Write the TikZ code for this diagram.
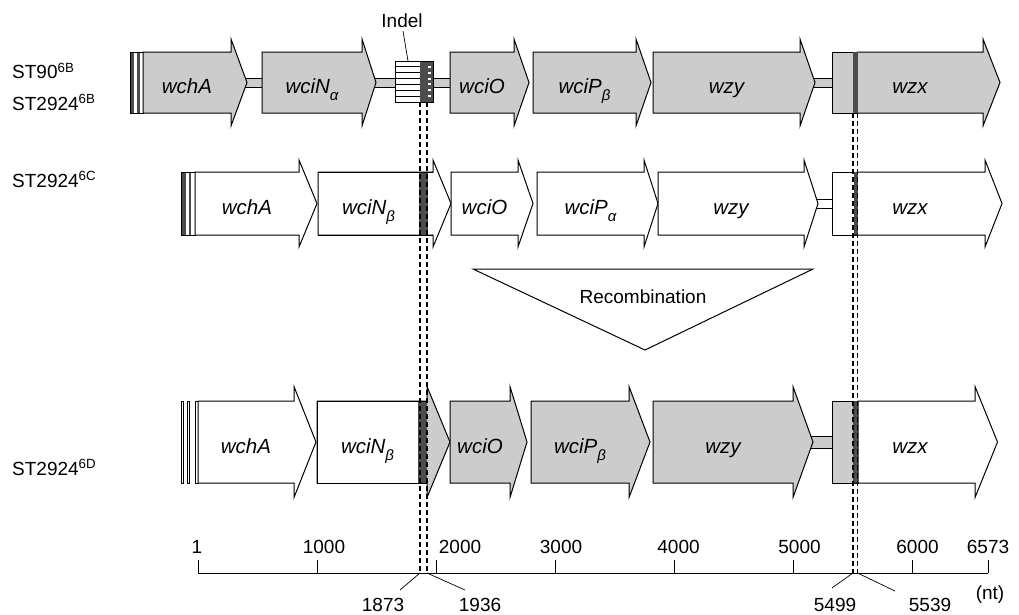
\documentclass[tikz,border=0pt]{standalone}
\usepackage{fontspec}
\setmainfont{Liberation Sans}
\definecolor{gfill}{gray}{0.8}
\definecolor{dfill}{gray}{0.3}
\tikzset{
  lab/.style={font=\fontsize{19}{22}\selectfont, inner sep=0pt},
  gene/.style={font=\fontsize{20.5}{23}\selectfont\itshape, inner sep=0pt, anchor=base},
  outl/.style={draw=black, line width=1pt},
  band/.style={draw=black, line width=0.8pt},
  dashln/.style={line width=1.2pt, dash pattern=on 5pt off 3pt},
  leader/.style={line width=0.7pt},
}
\newcommand{\sub}[1]{\raisebox{-0.35em}{\fontsize{15}{16}\selectfont\itshape #1}}
% name, left, base, tip, yc, bodyhalf, headhalf, fill
\newcommand{\garrow}[8]{%
  \filldraw[outl, fill=#8] (#2,{#5-#6}) -- (#3,{#5-#6}) -- (#3,{#5-#7}) -- (#4,#5) -- (#3,{#5+#7}) -- (#3,{#5+#6}) -- (#2,{#5+#6}) -- cycle;
  \coordinate (#1) at ({(#2+#3)/2},{#5+11});}
\begin{document}
\begin{tikzpicture}[x=1pt,y=-1pt]
\useasboundingbox (0,0) rectangle (1019,614);

% ---------------- Row 1 (ST90 6B / ST2924 6B) ----------------
\node[lab, anchor=base west] (r1a) at (12,78.5) {ST90\textsuperscript{6B}};
\node[lab, anchor=base west] (r1b) at (12,110) {ST2924\textsuperscript{6B}};
\filldraw[band, fill=gfill] (240,78) rectangle (263,87);
\filldraw[band, fill=gfill] (370,78) rectangle (396,87);
\filldraw[band, fill=gfill] (432,78) rectangle (451,87);
\filldraw[band, fill=gfill] (808,78) rectangle (833,87);
% left bars
\fill[dfill] (130,52) rectangle (134,113);
\fill[dfill] (137,52) rectangle (139.5,113);
\draw[outl] (130,52) rectangle (143,113);
\garrow{g1a}{143}{231}{247}{82.5}{30.5}{43.5}{gfill}
\garrow{g1b}{262}{362}{376}{82.5}{30.5}{43.5}{gfill}
% indel box
\filldraw[outl, fill=white] (395,61) rectangle (433,102);
\foreach \k in {1,...,6} {\draw[line width=0.9pt] (395,{61+\k*5.86}) -- (420,{61+\k*5.86});}
\fill[dfill] (420,61) rectangle (433,102);
\foreach \k in {1,...,6} {\fill[white] (428,{61+\k*5.86-1}) rectangle (431,{61+\k*5.86+1});}
\draw[outl] (395,61) rectangle (433,102);
\garrow{g1c}{450}{514}{529}{82.5}{30.5}{43.5}{gfill}
\garrow{g1d}{533}{636}{651}{82.5}{30.5}{43.5}{gfill}
\garrow{g1e}{653}{800}{815}{82.5}{30.5}{43.5}{gfill}
\filldraw[outl, fill=gfill] (832,52) rectangle (857,113);
\garrow{g1f}{857}{983}{1000}{82.5}{30.5}{43.5}{gfill}
\fill[dfill] (853,52) rectangle (857.5,113);
\node[gene] (t1a) at (g1a) {wchA};
\node[gene] (t1b) at (g1b) {wciN\sub{α}};
\node[gene] (t1c) at (g1c) {wciO};
\node[gene] (t1d) at (g1d) {wciP\sub{β}};
\node[gene] (t1e) at (g1e) {wzy};
\node[gene] (t1f) at (910,93.5) {wzx};
% indel label
\node[lab, anchor=base] (indel) at (402,27) {Indel};
\coordinate (indelbox) at (408,61);
\draw[leader] (403,31) -- (indelbox);

% ---------------- Row 2 (ST2924 6C) ----------------
\node[lab, anchor=base west] (r2) at (12,187) {ST2924\textsuperscript{6C}};
\filldraw[band, fill=white] (812,199) rectangle (833,208);
\draw[outl] (181,172) rectangle (195,235);
\fill[dfill] (181.5,172.5) rectangle (186,234.5);
\fill[dfill] (189,172.5) rectangle (191,234.5);
\garrow{g2a}{195}{299}{317}{203.5}{31.5}{43.5}{white}
\garrow{g2b}{318}{433}{451}{203.5}{31.5}{43.5}{white}
\coordinate (g2b) at (368.5,214.5);
\fill[dfill] (419,172) rectangle (428,235);
\draw[outl] (318,172) -- (433,172) (318,235) -- (433,235);
\garrow{g2c}{451}{518}{533}{203.5}{31.5}{43.5}{white}
\garrow{g2d}{537}{644}{658}{203.5}{31.5}{43.5}{white}
\garrow{g2e}{658}{804}{818}{203.5}{31.5}{43.5}{white}
\filldraw[outl, fill=white] (832,172) rectangle (857,235);
\garrow{g2f}{857}{985}{1002}{203.5}{31.5}{43.5}{white}
\fill[dfill] (854,172) rectangle (857.5,235);
\node[gene] (t2a) at (g2a) {wchA};
\node[gene] (t2b) at (g2b) {wciN\sub{β}};
\node[gene] (t2c) at (g2c) {wciO};
\node[gene] (t2d) at (g2d) {wciP\sub{α}};
\node[gene] (t2e) at (g2e) {wzy};
\node[gene] (t2f) at (910,214.5) {wzx};

% ---------------- Recombination ----------------
\coordinate (trA) at (473,269);
\coordinate (trB) at (813,269);
\coordinate (trC) at (645,350);
\draw[outl, line join=miter] (trA) -- (trB) -- (trC) -- cycle;
\node[lab, anchor=base] (recomb) at (643,303) {Recombination};

% ---------------- Row 3 (ST2924 6D) ----------------
\node[lab, anchor=base west] (r3) at (12,475) {ST2924\textsuperscript{6D}};
\filldraw[band, fill=gfill] (806,436) rectangle (833,448);
\filldraw[outl, fill=white] (181,401) rectangle (183.5,483);
\filldraw[outl, fill=white] (187,401) rectangle (189.5,483);
\filldraw[outl, fill=white] (195,401) rectangle (198,483);
\garrow{g3a}{198}{294}{316}{442}{41}{55.5}{white}
\garrow{g3b}{317}{427}{450}{442}{41}{55.5}{gfill}
\fill[white] (317.5,401.5) rectangle (418,482.5);
\fill[dfill] (418,401) rectangle (427,483);
\draw[outl] (317,401) -- (427,401) (317,483) -- (427,483) (317,401) -- (317,483);
\coordinate (g3b) at (367.5,453);
\garrow{g3c}{450}{510}{527}{442}{41}{55.5}{gfill}
\garrow{g3d}{531}{629}{650}{442}{41}{55.5}{gfill}
\garrow{g3e}{653}{793}{813}{442}{41}{55.5}{gfill}
\filldraw[outl, fill=gfill] (832,401) rectangle (858,483);
\garrow{g3f}{858}{975}{997.5}{442}{41}{55.5}{white}
\fill[dfill] (853,401) rectangle (858,483);
\node[gene] (t3a) at (g3a) {wchA};
\node[gene] (t3b) at (g3b) {wciN\sub{β}};
\node[gene] (t3c) at (g3c) {wciO};
\node[gene] (t3d) at (g3d) {wciP\sub{β}};
\node[gene] (t3e) at (g3e) {wzy};
\node[gene] (t3f) at (910,453) {wzx};

% ---------------- Scale axis ----------------
\coordinate (ax0) at (198,573);
\coordinate (ax1) at (988,573);
\draw[line width=1pt] (ax0) -- (ax1);
\foreach \x in {198,317,436,555,674,793,912,988} {\draw[line width=1pt] (\x,573) -- (\x,560);}
\node[lab, anchor=base] (s1) at (197,553.5) {1};
\node[lab, anchor=base] (s1000) at (324,553.5) {1000};
\node[lab, anchor=base] (s2000) at (460,553.5) {2000};
\node[lab, anchor=base] (s3000) at (561,553.5) {3000};
\node[lab, anchor=base] (s4000) at (678.5,553.5) {4000};
\node[lab, anchor=base] (s5000) at (799.5,553.5) {5000};
\node[lab, anchor=base] (s6000) at (917.5,553.5) {6000};
\node[lab, anchor=base] (s6573) at (988,553.5) {6573};
\node[lab, anchor=base] (nt) at (990,599) {(nt)};

% dashed boundary lines
\coordinate (d1873) at (420,573);
\coordinate (d1936) at (427,573);
\coordinate (d5499) at (853,573);
\coordinate (d5539) at (857.5,573);
\draw[dashln] (420,102) -- (d1873);
\draw[dashln] (427,102) -- (d1936);
\draw[dashln] (853,113) -- (d5499);
\draw[dashln] (857.5,113) -- (d5539);

% position labels
\node[lab, anchor=base] (p1873) at (383,611.5) {1873};
\node[lab, anchor=base] (p1936) at (480,611.5) {1936};
\node[lab, anchor=base] (p5499) at (835,611.5) {5499};
\node[lab, anchor=base] (p5539) at (930,611.5) {5539};
\coordinate (q1873) at (400,590);
\coordinate (q1936) at (465,590);
\coordinate (q5499) at (832,588);
\coordinate (q5539) at (895,591);
\draw[leader] (d1873) -- (q1873);
\draw[leader] (d1936) -- (q1936);
\draw[leader] (d5499) -- (q5499);
\draw[leader] (d5539) -- (q5539);
\end{tikzpicture}
\end{document}
